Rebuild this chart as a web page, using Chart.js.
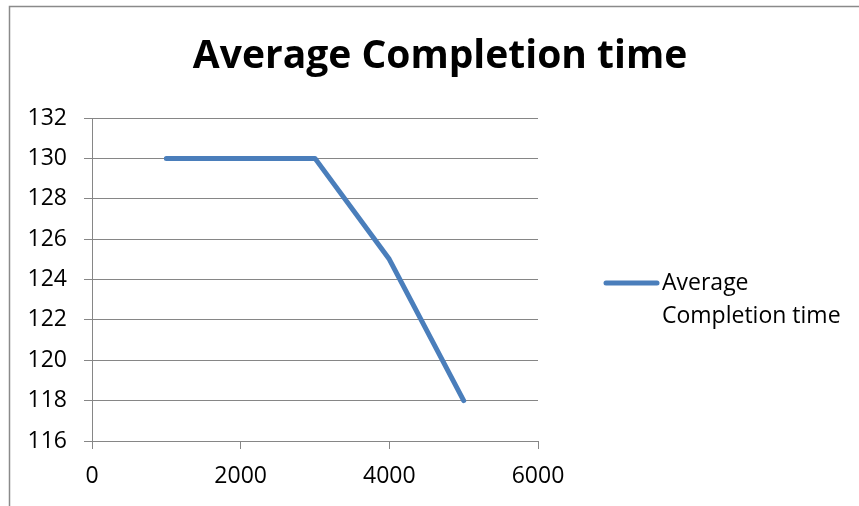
<!DOCTYPE html>
<html>
<head>
<meta charset="utf-8">
<script src="https://cdn.jsdelivr.net/npm/chart.js@4.4.1/dist/chart.umd.min.js"></script>
<style>
  html, body { margin: 0; padding: 0; background: #fff; }
  #wrap { width: 859px; height: 506px; }
</style>
</head>
<body>
<div id="wrap"><canvas id="c" width="859" height="506"></canvas></div>
<script>
const chartTitle = "Average Completion time";
const seriesLabel = "Average Completion time";
const legendLines = ["Average", "Completion time"];
const xValues = [1000, 2000, 3000, 4000, 5000];
const yValues = [130, 130, 130, 125, 118];
const xTicks = [0, 2000, 4000, 6000];
const yTicks = [116, 118, 120, 122, 124, 126, 128, 130, 132];

const FONT = "'Open Sans', 'Noto Sans', sans-serif";
const LINE_COLOR = "#4a7ebb";
const GRID = "#868686";

const points = xValues.map((x, i) => ({ x: x, y: yValues[i] }));

const framePlugin = {
  id: 'frame',
  beforeDraw(chart) {
    const ctx = chart.ctx;
    ctx.save();
    ctx.fillStyle = '#fff';
    ctx.fillRect(0, 0, chart.width, chart.height);
    ctx.strokeStyle = '#8a8a8a';
    ctx.lineWidth = 1.5;
    ctx.strokeRect(9.5, 6.5, 1000, 1000);
    ctx.restore();
  }
};

const titlePlugin = {
  id: 'topTitle',
  afterDraw(chart) {
    const ctx = chart.ctx;
    ctx.save();
    ctx.fillStyle = '#000';
    ctx.font = "bold 39px " + FONT;
    ctx.textAlign = 'center';
    ctx.textBaseline = 'alphabetic';
    ctx.fillText(chartTitle, 440, 68);
    ctx.restore();
  }
};

const legendPlugin = {
  id: 'sideLegend',
  afterDraw(chart) {
    const ctx = chart.ctx;
    const ds = chart.data.datasets[0];
    ctx.save();
    ctx.strokeStyle = ds.borderColor;
    ctx.lineWidth = 5;
    ctx.lineCap = 'round';
    ctx.beginPath();
    ctx.moveTo(606, 283);
    ctx.lineTo(657, 283);
    ctx.stroke();
    ctx.fillStyle = '#000';
    ctx.font = "23px " + FONT;
    ctx.textBaseline = 'alphabetic';
    ctx.textAlign = 'left';
    legendLines.forEach((t, i) => ctx.fillText(t, 662, 290 + i * 33));
    ctx.restore();
  }
};

new Chart(document.getElementById('c'), {
  type: 'line',
  data: {
    datasets: [{
      label: seriesLabel,
      data: points,
      borderColor: LINE_COLOR,
      backgroundColor: LINE_COLOR,
      borderWidth: 5,
      borderCapStyle: 'round',
      borderJoinStyle: 'round',
      pointRadius: 0,
      tension: 0,
      fill: false
    }]
  },
  options: {
    responsive: false,
    animation: false,
    devicePixelRatio: 1,
    layout: { padding: { left: 0, right: 321, top: 118, bottom: 0 } },
    plugins: {
      legend: { display: false },
      tooltip: { enabled: false },
      title: { display: false }
    },
    scales: {
      x: {
        type: 'linear',
        min: 0, max: 6000,
        afterBuildTicks(axis) { axis.ticks = xTicks.map(v => ({ value: v })); },
        afterFit(axis) { axis.height = 65; },
        ticks: { color: '#000', font: { family: FONT, size: 23 }, padding: 14, callback: v => String(v) },
        grid: { drawOnChartArea: false, drawTicks: true, tickLength: 8, color: GRID },
        border: { display: true, color: GRID, width: 1 }
      },
      y: {
        type: 'linear',
        min: 116, max: 132,
        afterBuildTicks(axis) { axis.ticks = yTicks.map(v => ({ value: v })); },
        afterFit(axis) { axis.width = 92; },
        ticks: { color: '#000', font: { family: FONT, size: 23 }, padding: 17, callback: v => String(v) },
        grid: { drawOnChartArea: true, drawTicks: true, tickLength: 8, color: GRID },
        border: { display: true, color: GRID, width: 1 }
      }
    }
  },
  plugins: [framePlugin, titlePlugin, legendPlugin]
});
</script>
</body>
</html>
